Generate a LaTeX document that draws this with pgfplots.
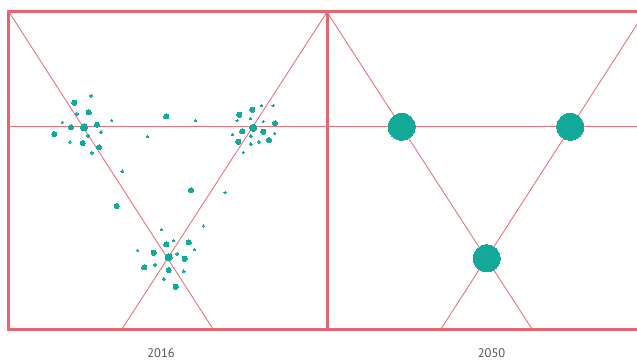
\documentclass[border=0pt]{standalone}
\usepackage{pgfplots}
\pgfplotsset{compat=1.18}
\usepackage{fontspec}
\setmainfont{PT Sans}
\definecolor{framered}{HTML}{E8656F}
\definecolor{guide}{HTML}{EA717A}
\definecolor{tealdot}{HTML}{12A89A}
\definecolor{lab}{HTML}{555555}
\pgfplotsset{
  panel/.style={scale only axis, width=318pt, height=317pt,
    ymin=12, ymax=329, y dir=reverse,
    xtick=\empty, ytick=\empty,
    axis line style={framered, line width=3pt},
    clip=true, anchor=south west,
    xlabel style={font=\fontsize{12.5}{14}\selectfont, text=lab,
      at={(axis description cs:0.5,0)}, anchor=center, yshift=-24pt}},
  gl/.style={guide, line width=0.9pt, no marks},
  dot/.style={tealdot, only marks, mark=*, mark options={fill=tealdot, draw=tealdot, line width=0pt}}
}
\begin{document}
\begin{tikzpicture}[x=1pt,y=1pt]
% ---------- 2016 ----------
\begin{axis}[panel, at={(9pt,32pt)}, xmin=9, xmax=327,
  xlabel={2016}, xlabel style={xshift=-7pt}]
\addplot[gl] coordinates {(9,12) (213,329)};
\addplot[gl] coordinates {(327,12) (122,329)};
\addplot[gl] coordinates {(9,126.5) (327,126.5)};
% large
\addplot[dot, mark size=3.6pt] coordinates {(84,127.3) (253.3,127.7) (168.7,257.3)};
% medium
\addplot[dot, mark size=2.6pt] coordinates {
(74.3,102.7) (88.7,112.3) (166.3,116.3) (71,127.3) (97,124.7) (54.3,134)
(82.7,143) (99,147.3) (191,190.3) (116.7,206)
(239.3,114.7) (252.3,109.7) (275,123.3) (242.3,131.3) (263.3,131.7)
(238.3,141.7) (269,140)
(166.3,244.3) (188.7,242.3) (153.7,252.7) (184.7,258.7) (144.3,267.3)
(168.7,270) (175.7,286.7)};
% small
\addplot[dot, mark size=1.6pt] coordinates {
(76.7,113.7) (101,132) (88,135.7) (91.7,152.7) (122.3,171.3)
(250.7,136) (258.7,142) (250.7,144)
(177.3,253.7) (155,264.7) (183.7,271.3) (163.7,279)};
% tiny
\addplot[dot, mark size=1.1pt] coordinates {
(91,96) (62.3,122.3) (111.7,120.3) (195.3,120.7) (70,142) (147.7,136.7) (225,192.7)
(261.3,105.7) (273,105.7) (237,120.7) (250.7,118.7) (263.3,121.3)
(232.7,134.7) (274.7,133.3) (243.3,152.3)
(161.3,229.7) (203.3,226) (173.7,240.7) (137.7,250.3) (194.3,249.7)};
\end{axis}
% ---------- 2050 ----------
\begin{axis}[panel, at={(327pt,32pt)}, xmin=327, xmax=645,
  xlabel={2050}, xlabel style={xshift=5.5pt}]
\addplot[gl] coordinates {(327,12) (532,329)};
\addplot[gl] coordinates {(645,12) (441,329)};
\addplot[gl] coordinates {(327,126.5) (645,126.5)};
\addplot[dot, mark size=13.5pt] coordinates {(401.7,126.7) (570.3,126.7) (486.7,258.3)};
\end{axis}
\pgfresetboundingbox
\useasboundingbox (0,0) rectangle (637,361);
\end{tikzpicture}
\end{document}
